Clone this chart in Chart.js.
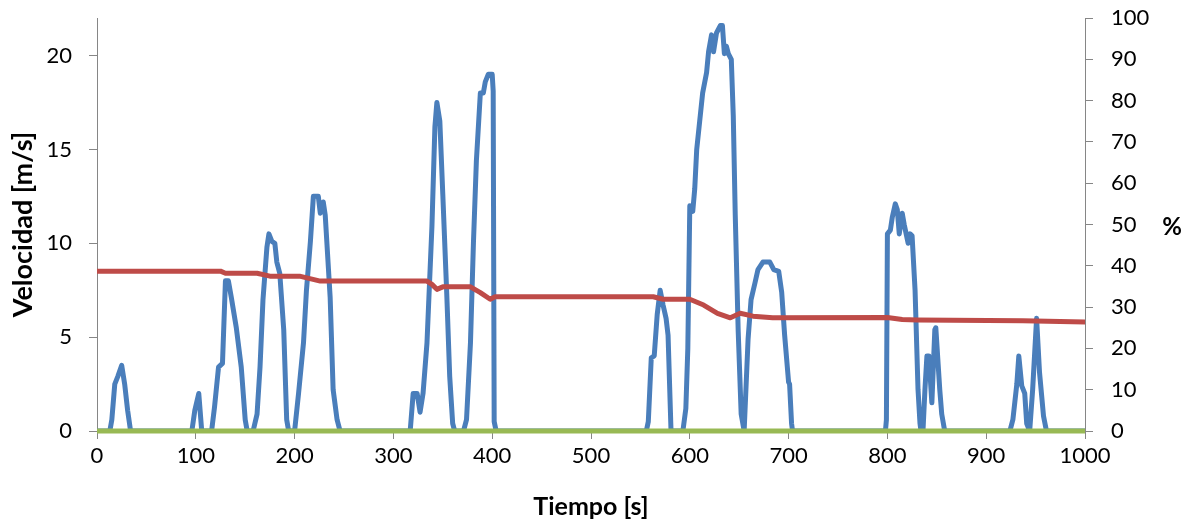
<!DOCTYPE html>
<html>
<head>
<meta charset="utf-8">
<script src="https://cdn.jsdelivr.net/npm/chart.js"></script>
<style>
  html, body { margin: 0; padding: 0; background: #fff; }
  #wrap { width: 1195px; height: 526px; }
</style>
</head>
<body>
<div id="wrap"><canvas id="speedChart" width="1195" height="526"></canvas></div>
<script>
// velocidad [m/s] vs tiempo [s]
const speedTime = [0, 13, 15, 18, 21, 25, 28, 31, 34,
    96, 99, 103, 106,
    116, 119, 123, 127, 130, 133, 136, 141, 146, 150, 152,
    158, 162, 165, 168, 172, 174, 177, 180, 182, 185, 189, 192, 194,
    200, 204, 209, 212, 216, 219, 224, 226, 229, 231, 236, 239, 243, 246,
    317, 320, 324, 327, 330, 334, 339, 342, 344, 347, 350, 354, 357, 360, 362,
    371, 374, 378, 381, 384, 388, 391, 393, 396, 400, 401, 402, 404,
    556, 558, 561, 564, 567, 570, 573, 576, 578, 581,
    593, 596, 598, 600, 603, 605, 607, 610, 613, 617, 619, 622, 624, 627, 631, 633, 635, 637, 639, 642, 644, 646, 649, 652, 655,
    659, 662, 666, 669, 674, 681, 685, 690, 693, 696, 700, 701, 703, 704,
    798, 799, 800, 803, 805, 808, 810, 812, 815, 817, 819, 821, 823, 825, 828, 831, 833, 834,
    836, 838, 840, 842, 845, 848, 849, 853, 855, 858,
    924, 927, 931, 933, 936, 939, 941, 944, 947, 951, 954, 958, 961, 1000];
const speedValues = [0, 0, 0.6, 2.5, 2.9, 3.5, 2.5, 1.1, 0,
    0, 1.1, 2.0, 0,
    0, 1.3, 3.4, 3.6, 8.0, 8.0, 7.1, 5.5, 3.4, 0.6, 0,
    0, 0.9, 3.4, 7.0, 9.8, 10.5, 10.1, 10.0, 9.0, 8.4, 5.4, 0.6, 0,
    0, 2.0, 4.7, 7.5, 10.1, 12.5, 12.5, 11.6, 12.2, 11.5, 7.1, 2.2, 0.6, 0,
    0, 2.0, 2.0, 1.0, 2.0, 4.7, 10.9, 16.2, 17.5, 16.5, 12.6, 7.3, 2.9, 0.4, 0,
    0, 0.6, 4.7, 10.0, 14.4, 18.0, 18.0, 18.6, 19.0, 19.0, 18.1, 0.5, 0,
    0, 0.5, 3.9, 4.0, 6.2, 7.5, 6.7, 6.0, 5.1, 0,
    0, 1.2, 4.4, 12.0, 11.7, 12.9, 15.0, 16.5, 18.0, 19.1, 20.2, 21.1, 20.2, 21.2, 21.6, 21.6, 20.1, 20.5, 20.1, 19.8, 16.8, 11.5, 5.3, 0.9, 0,
    4.9, 7.0, 7.9, 8.6, 9.0, 9.0, 8.6, 8.5, 7.4, 5.1, 2.6, 2.5, 0.4, 0,
    0, 0.6, 10.5, 10.7, 11.4, 12.1, 11.8, 10.5, 11.6, 11.0, 10.5, 10.0, 10.5, 10.4, 7.5, 2.2, 0.4, 0,
    0, 2.2, 4.0, 4.0, 1.5, 5.4, 5.5, 2.2, 0.9, 0,
    0, 0.6, 2.5, 4.0, 2.4, 2.0, 0.4, 0, 2.2, 6.0, 3.1, 0.8, 0, 0];

// % (eje derecho)
const socTime = [0, 125, 130, 162, 175, 205, 226, 334, 339, 344, 350, 378, 388, 398, 403,
    563, 573, 600, 614, 628, 641, 651, 664, 684, 800, 815, 830, 937, 1000];
const socValues = [38.7, 38.7, 38.2, 38.2, 37.5, 37.5, 36.3, 36.3, 35.5, 34.3, 34.9, 34.9, 33.5, 31.9, 32.5,
    32.5, 31.9, 31.9, 30.5, 28.5, 27.4, 28.5, 27.8, 27.4, 27.5, 27.0, 26.9, 26.7, 26.4];

const zeroTime = [0, 1000];
const zeroValues = [0, 0];

const xTicks = [0, 100, 200, 300, 400, 500, 600, 700, 800, 900, 1000];
const leftTicks = [0, 5, 10, 15, 20];
const rightTicks = [0, 10, 20, 30, 40, 50, 60, 70, 80, 90, 100];

const toPoints = (xs, ys) => xs.map((x, i) => ({ x: x, y: ys[i] }));
const setTicks = list => scale => { scale.ticks = list.map(v => ({ value: v })); };
const plainLabel = v => String(v);
// fixed box widths, no extra padding from the end labels
const fixWidth = w => s => { s.width = w; s.paddingTop = 0; s.paddingBottom = 0; };

const axisGray = '#868686';
const tickFont = { family: 'Lato', size: 22 };

const percentLabel = {
    id: 'percentLabel',
    afterDraw(chart) {
        const ctx = chart.ctx;
        const area = chart.chartArea;
        ctx.save();
        ctx.font = 'bold 24px Lato';
        ctx.fillStyle = '#000';
        ctx.textAlign = 'center';
        ctx.textBaseline = 'middle';
        ctx.fillText('%', chart.scales.y2.right - 23, (area.top + area.bottom) / 2 + 3);
        ctx.restore();
    }
};

const ctx = document.getElementById('speedChart').getContext('2d');
new Chart(ctx, {
    type: 'line',
    data: {
        datasets: [{
            label: 'Velocidad',
            data: toPoints(speedTime, speedValues),
            borderColor: '#4A7EBB',
            borderWidth: 5,
            yAxisID: 'y',
            order: 3
        }, {
            label: '%',
            data: toPoints(socTime, socValues),
            borderColor: '#BE4B48',
            borderWidth: 5,
            yAxisID: 'y2',
            order: 2
        }, {
            label: 'cero',
            data: toPoints(zeroTime, zeroValues),
            borderColor: '#98B954',
            borderWidth: 5,
            borderCapStyle: 'butt',
            clip: false,
            yAxisID: 'y',
            order: 1
        }]
    },
    options: {
        responsive: false,
        animation: false,
        devicePixelRatio: 1,
        layout: { padding: { top: 18, left: 0, right: 0, bottom: 0 } },
        elements: {
            point: { radius: 0 },
            line: { tension: 0, fill: false, borderJoinStyle: 'round', borderCapStyle: 'round' }
        },
        plugins: {
            legend: { display: false },
            tooltip: { enabled: false }
        },
        scales: {
            x: {
                type: 'linear',
                min: 0,
                max: 1000,
                afterBuildTicks: setTicks(xTicks),
                afterFit: s => { s.height = 95; },
                grid: { drawOnChartArea: false, color: axisGray, tickLength: 8 },
                border: { color: axisGray, width: 1 },
                ticks: { font: tickFont, color: '#000', padding: 4, maxRotation: 0, callback: plainLabel },
                title: { display: true, text: 'Tiempo [s]', font: { family: 'Lato', size: 25, weight: 'bold' }, color: '#000', padding: { top: 0, bottom: 4 } }
            },
            y: {
                position: 'left',
                min: 0,
                max: 22,
                afterBuildTicks: setTicks(leftTicks),
                afterFit: fixWidth(97),
                grid: { drawOnChartArea: false, color: axisGray, tickLength: 8 },
                border: { color: axisGray, width: 1 },
                ticks: { font: tickFont, color: '#000', padding: 17, callback: plainLabel },
                title: { display: true, text: 'Velocidad [m/s]', font: { family: 'Lato', size: 27, weight: 'bold' }, color: '#000', padding: { top: 7, bottom: 0 } }
            },
            y2: {
                position: 'right',
                min: 0,
                max: 100,
                afterBuildTicks: setTicks(rightTicks),
                afterFit: fixWidth(110),
                grid: { drawOnChartArea: false, color: axisGray, tickLength: 8 },
                border: { color: axisGray, width: 1 },
                ticks: { font: tickFont, color: '#000', padding: 18, callback: plainLabel }
            }
        }
    },
    plugins: [percentLabel]
});
</script>
</body>
</html>
